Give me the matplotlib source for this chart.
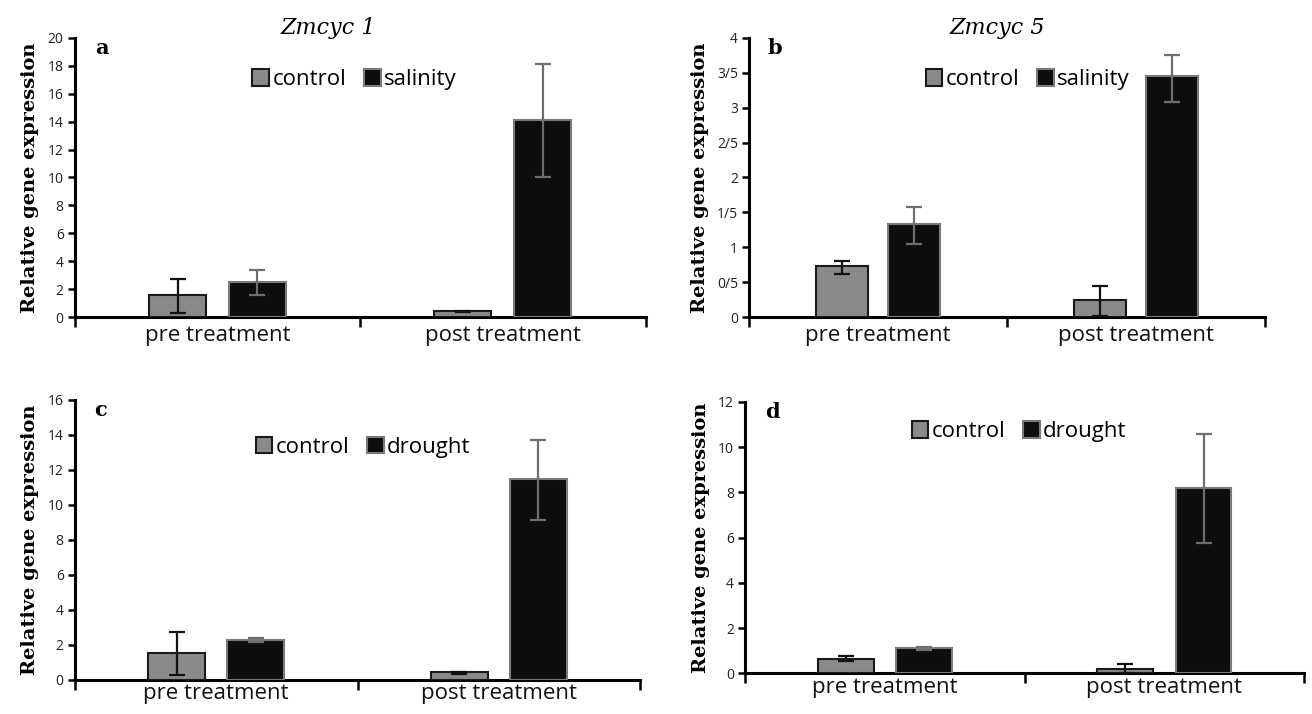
import matplotlib.pyplot as plt
import numpy as np

categories = ['pre treatment', 'post treatment']

# panel a: Zmcyc 1, salinity
a_control = [1.6, 0.4]
a_control_lo = [0.3, 0.35]
a_control_hi = [2.7, 0.45]
a_treat = [2.5, 14.1]
a_treat_lo = [1.6, 10.0]
a_treat_hi = [3.4, 18.1]

# panel b: Zmcyc 5, salinity
b_control = [0.73, 0.25]
b_control_lo = [0.61, 0.02]
b_control_hi = [0.80, 0.45]
b_treat = [1.33, 3.45]
b_treat_lo = [1.04, 3.08]
b_treat_hi = [1.58, 3.76]

# panel c: Zmcyc 1, drought
c_control = [1.55, 0.45]
c_control_lo = [0.25, 0.30]
c_control_hi = [2.75, 0.45]
c_treat = [2.25, 11.5]
c_treat_lo = [2.15, 9.15]
c_treat_hi = [2.40, 13.7]

# panel d: Zmcyc 5, drought
d_control = [0.65, 0.2]
d_control_lo = [0.55, 0.0]
d_control_hi = [0.75, 0.4]
d_treat = [1.1, 8.2]
d_treat_lo = [1.05, 5.75]
d_treat_hi = [1.15, 10.6]

b_ticks = [0, 0.5, 1, 1.5, 2, 2.5, 3, 3.5, 4]
b_ticklabels = ['0', '0/5', '1', '1/5', '2', '2/5', '3', '3/5', '4']

SANS = 'Open Sans'
SERIF = 'DejaVu Serif'


def panel(fig, rect, letter, treat_name, ctrl, ctrl_lo, ctrl_hi, treat, treat_lo, treat_hi,
          ymax, ystep, leg_pos, ticks=None, ticklabels=None, xpad=6):
    ax = fig.add_axes(rect)
    x = np.arange(len(categories))
    width = 0.2
    off = 0.14
    ctrl = np.array(ctrl)
    treat = np.array(treat)
    ctrl_err = [ctrl - np.array(ctrl_lo), np.array(ctrl_hi) - ctrl]
    treat_err = [treat - np.array(treat_lo), np.array(treat_hi) - treat]
    ax.bar(x - off, ctrl, width, color='#8a8a8a', edgecolor='#1a1a1a', linewidth=1.5,
           label='control', zorder=3)
    ax.bar(x + off, treat, width, color='#0d0d0d', edgecolor='#7a7a7a', linewidth=1.5,
           label=treat_name, zorder=3)
    ax.errorbar(x - off, ctrl, yerr=ctrl_err, fmt='none', ecolor='#111111', elinewidth=1.6,
                capsize=6, capthick=1.6, zorder=4)
    ax.errorbar(x + off, treat, yerr=treat_err, fmt='none', ecolor='#6e6e6e', elinewidth=1.6,
                capsize=6, capthick=1.6, zorder=4)

    ax.set_xlim(-0.5, 1.5)
    ax.set_ylim(0, ymax)
    if ticks is None:
        ax.set_yticks(np.arange(0, ymax + ystep / 2, ystep))
    else:
        ax.set_yticks(ticks)
        ax.set_yticklabels(ticklabels)
    for t in ax.get_yticklabels():
        t.set_fontfamily(SANS)
        t.set_fontsize(10)
        t.set_color('#222222')
    ax.tick_params(axis='y', direction='out', length=5, width=1.8, pad=3)

    ax.set_xticks(x)
    ax.set_xticklabels(categories, fontsize=16, fontfamily=SANS, color='#111111')
    ax.tick_params(axis='x', which='major', length=0, pad=xpad)
    ax.set_xticks([-0.5, 0.5, 1.5], minor=True)
    ax.tick_params(axis='x', which='minor', direction='out', length=7, width=1.8)

    for s in ['top', 'right']:
        ax.spines[s].set_visible(False)
    for s in ['left', 'bottom']:
        ax.spines[s].set_linewidth(2.2)

    ax.set_ylabel('Relative gene expression', fontsize=14, fontweight='bold',
                  fontfamily=SERIF, labelpad=6)
    ax.text(0.035, 1.0, letter, transform=ax.transAxes, fontsize=15, fontweight='bold',
            fontfamily=SERIF, va='top', ha='left')
    ax.legend(loc='center', bbox_to_anchor=leg_pos, ncol=2, frameon=False,
              prop={'family': SANS, 'size': 16}, handlelength=0.75, handleheight=0.75,
              handletextpad=0.15, columnspacing=0.8, borderaxespad=0)
    return ax


fig = plt.figure(figsize=(13.12, 7.14), dpi=100)

panel(fig, [0.057, 0.556, 0.435, 0.391], 'a', 'salinity',
      a_control, a_control_lo, a_control_hi, a_treat, a_treat_lo, a_treat_hi,
      20, 2, (0.49, 0.85))
panel(fig, [0.571, 0.556, 0.393, 0.391], 'b', 'salinity',
      b_control, b_control_lo, b_control_hi, b_treat, b_treat_lo, b_treat_hi,
      4, 0.5, (0.54, 0.85), b_ticks, b_ticklabels)
panel(fig, [0.057, 0.048, 0.431, 0.392], 'c', 'drought',
      c_control, c_control_lo, c_control_hi, c_treat, c_treat_lo, c_treat_hi,
      16, 2, (0.51, 0.83), xpad=2)
panel(fig, [0.568, 0.057, 0.426, 0.380], 'd', 'drought',
      d_control, d_control_lo, d_control_hi, d_treat, d_treat_lo, d_treat_hi,
      12, 2, (0.49, 0.89), xpad=3)

fig.text(0.25, 0.961, 'Zmcyc 1', fontsize=16, style='italic', fontfamily=SERIF,
         ha='center', va='center')
fig.text(0.76, 0.961, 'Zmcyc 5', fontsize=16, style='italic', fontfamily=SERIF,
         ha='center', va='center')

fig.savefig('out.png', dpi=100)
